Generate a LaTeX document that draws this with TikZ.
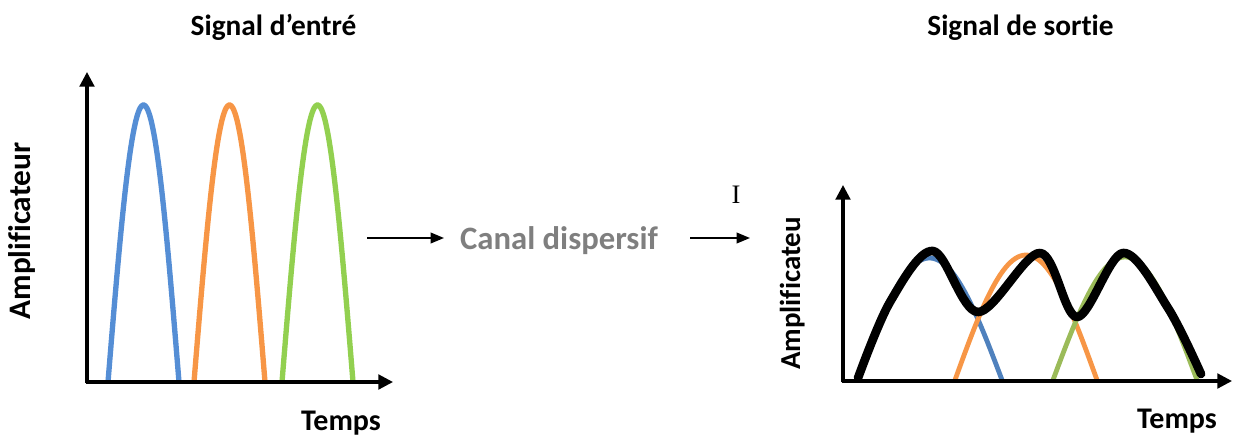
\documentclass[tikz,border=0pt]{standalone}
\usepackage{fontspec}
\setmainfont{Carlito}[Ligatures=NoCommon]
\newfontfamily\romanI{Liberation Serif}
\usetikzlibrary{arrows.meta}
\definecolor{pulseblue}{RGB}{85,142,213}
\definecolor{pulseorange}{RGB}{247,150,70}
\definecolor{pulsegreen}{RGB}{146,208,80}
\definecolor{outblue}{RGB}{79,129,189}
\definecolor{outorange}{RGB}{247,150,70}
\definecolor{outgreen}{RGB}{155,187,89}
\definecolor{channelgray}{RGB}{127,127,127}
\tikzset{
  axis/.style={line width=2.3pt, -{Triangle[length=11pt,width=11pt]}},
  flow/.style={line width=1.2pt, -{Triangle[length=10pt,width=8pt]}},
  pulse/.style={line width=4pt},
  spread/.style={line width=3.6pt},
  envelope/.style={line width=6.5pt, line join=round, line cap=round},
  lbl/.style={inner sep=0pt, anchor=base},
  fs/.style={font=\bfseries\fontsize{#1}{#1}\selectfont},
}
\begin{document}
\begin{tikzpicture}[x=0.75pt,y=-0.75pt]
\useasboundingbox (0,0) rectangle (1234,436);

% ---- input signal ----
\node[lbl, fs=22] (tin) at (273.5,35) {Signal d’entré};
\coordinate (o1) at (87,382);
\coordinate (y1) at (87,72);
\coordinate (x1) at (393,382);
\draw[pulse, pulseblue, domain=0:180, samples=60, variable=\t]
  plot ({108+\t/180*71}, {382-277*sin(\t)});
\draw[pulse, pulseorange, domain=0:180, samples=60, variable=\t]
  plot ({194+\t/180*71}, {382-277*sin(\t)});
\draw[pulse, pulsegreen, domain=0:180, samples=60, variable=\t]
  plot ({282+\t/180*71}, {382-277*sin(\t)});
\draw[axis] ([yshift=-1pt]o1) -- (y1);
\draw[axis] ([xshift=-1pt]o1) -- (x1);
\node[lbl, fs=23.5, rotate=90] (ain) at (30,231) {Amplificateur};
\node[lbl, fs=22.5] (tmin) at (341,430) {Temps};

% ---- channel ----
\node[lbl, fs=24.5, text=channelgray] (canal) at (559,249) {Canal dispersif};
\coordinate (a1s) at (367,238);
\coordinate (a1e) at (444,238);
\coordinate (a2s) at (690,238);
\coordinate (a2e) at (750,238);
\draw[flow] (a1s) -- (a1e);
\draw[flow] (a2s) -- (a2e);
\node[lbl, font=\romanI\fontsize{20}{20}\selectfont] (mark) at (736,203) {I};

% ---- output signal ----
\node[lbl, fs=22] (tout) at (1020.5,35) {Signal de sortie};
\coordinate (o2) at (843,381);
\coordinate (y2) at (843,185);
\coordinate (x2) at (1232,381);
\draw[spread, outblue, domain=0:180, samples=60, variable=\t]
  plot ({857+\t/180*145}, {380-122*sin(\t)});
\draw[spread, outorange, domain=0:180, samples=60, variable=\t]
  plot ({955+\t/180*142}, {380-125*sin(\t)});
\draw[spread, outgreen, domain=0:180, samples=60, variable=\t]
  plot ({1053+\t/180*144}, {380-123*sin(\t)});
\draw[axis] ([yshift=-1pt]o2) -- (y2);
\draw[axis] ([xshift=-1pt]o2) -- (x2);
\draw[envelope] plot[smooth, tension=0.55] coordinates {
  (858,378) (890,302) (933,251) (978,312) (1040,253)
  (1077,317) (1123,253) (1168,308) (1201,374)};
\node[lbl, fs=21.7, rotate=90] (aout) at (800,293.5) {Amplificateu};
\node[lbl, fs=22.5] (tmout) at (1177,428) {Temps};
\end{tikzpicture}
\end{document}
